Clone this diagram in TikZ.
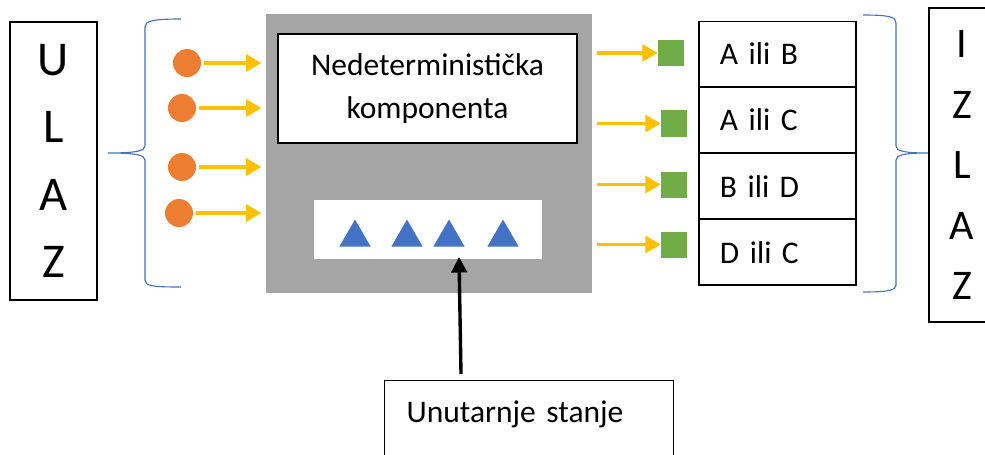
\documentclass[tikz,border=0pt]{standalone}
\usepackage{fontspec}
\setmainfont{Carlito}
\usepackage{tikz}
\usetikzlibrary{positioning}
\usetikzlibrary{shapes.geometric}
\usetikzlibrary{arrows.meta}
\definecolor{inorange}{HTML}{ED7D31}
\definecolor{outgreen}{HTML}{70AD47}
\definecolor{flowgold}{HTML}{FFC000}
\definecolor{officeblue}{HTML}{4472C4}
\definecolor{coregray}{HTML}{A5A5A5}
\tikzset{
	inputstyle/.style={circle,fill=inorange,minimum size=0.7cm,inner sep=0},
	outputstyle/.style={rectangle,fill=outgreen,minimum size=0.65cm,inner sep=0},
	statestyle/.style={regular polygon,regular polygon sides=3,fill=officeblue,minimum size=0.9cm,inner sep=0},
	framestyle/.style={rectangle,draw=black,line width=0.8pt,fill=white},
	valuestyle/.style={framestyle,minimum height=1.625cm,text width=2.875cm,inner xsep=0.525cm,align=left,font=\fontsize{22.4}{30}\selectfont},
	flowstyle/.style={draw=flowgold,line width=2.8pt,-{Triangle[length=11pt,width=12pt]}},
	pointerstyle/.style={draw=black,line width=2.4pt,-{Triangle[length=11pt,width=11pt]}},
	bracestyle/.style={draw=officeblue,line width=0.8pt}
}
\begin{document}
\begin{tikzpicture}[x=0.025cm,y=-0.025cm]
	\useasboundingbox (0,0) rectangle (985,454);
	\clip (0,0) rectangle (985,454);
	% ulaz
	\node[framestyle,minimum width=2.175cm,minimum height=6.95cm,align=center,font=\fontsize{34.5}{48}\selectfont] (ulaz) at (53.5,161) {U\\L\\A\\Z};
	\draw[bracestyle] (181,19) .. controls (152,19) and (145,21) .. (145,27) -- (145,146) .. controls (145,151) and (136,153) .. (108,153) .. controls (136,153) and (145,155) .. (145,160) -- (145,280) .. controls (145,286) and (152,287) .. (181,287);
	% komponenta
	\node[rectangle,fill=coregray,minimum width=8.15cm,minimum height=6.975cm,inner sep=0] (core) at (429,153.5) {};
	\node[framestyle,minimum width=7.475cm,minimum height=2.725cm,align=center,font=\fontsize{22.4}{30.5}\selectfont] (nd) at (427.5,88.5) {Nedeterministička\\komponenta};
	\node[rectangle,fill=white,minimum width=5.7cm,minimum height=1.475cm,inner sep=0] (mem) at (428,229.5) {};
	\node[statestyle] (t1) at (355,237.5) {};
	\node[statestyle] (t2) at (407,237.5) {};
	\node[statestyle] (t3) at (449,237.5) {};
	\node[statestyle] (t4) at (503,237.5) {};
	% ulazi
	\node[inputstyle] (in1) at (187,63) {};
	\node[inputstyle] (in2) at (182,108) {};
	\node[inputstyle] (in3) at (182,167) {};
	\node[inputstyle] (in4) at (179,213) {};
	\draw[flowstyle,shorten <=2pt,shorten >=3pt] (in1) -- (in1 -| core.west);
	\draw[flowstyle,shorten <=2pt,shorten >=3pt] (in2) -- (in2 -| core.west);
	\draw[flowstyle,shorten <=2pt,shorten >=3pt] (in3) -- (in3 -| core.west);
	\draw[flowstyle,shorten <=2pt,shorten >=3pt] (in4) -- (in4 -| core.west);
	% izlazi
	\node[outputstyle] (out1) at (671,53) {};
	\node[outputstyle] (out2) at (674,123.5) {};
	\node[outputstyle] (out3) at (674,184.5) {};
	\node[outputstyle] (out4) at (674,244.5) {};
	\draw[flowstyle,shorten <=3pt] (out1 -| core.east) -- (out1);
	\draw[flowstyle,shorten <=3pt] (out2 -| core.east) -- (out2);
	\draw[flowstyle,shorten <=3pt] (out3 -| core.east) -- (out3);
	\draw[flowstyle,shorten <=3pt] (out4 -| core.east) -- (out4);
	\node[valuestyle] (v1) at (777.5,54) {A ili B};
	\node[valuestyle,below=0pt of v1] (v2) {A ili C};
	\node[valuestyle,below=0pt of v2] (v3) {B ili D};
	\node[valuestyle,below=0pt of v3] (v4) {D ili C};
	% izlaz
	\draw[bracestyle] (863,15) .. controls (890,15) and (896,17) .. (896,23) -- (896,146) .. controls (896,151) and (904,153) .. (928,153) .. controls (904,153) and (896,155) .. (896,160) -- (896,285) .. controls (896,290) and (890,292) .. (863,292);
	\node[framestyle,minimum width=1.65cm,minimum height=7.85cm,align=center,font=\fontsize{30}{43}\selectfont] (izlaz) at (962,165) {I\\Z\\L\\A\\Z};
	% unutarnje stanje
	\node[framestyle,anchor=north west,text width=6.125cm,inner xsep=0.55cm,inner ysep=0.55cm,text height=0.5cm,text depth=2cm,align=left,font=\fontsize{22.4}{30}\selectfont] (stanje) at (384,380) {Unutarnje stanje};
	\coordinate (tail) at (461,374);
	\coordinate (head) at (459,257);
	\draw[pointerstyle] (tail) -- (head);
\end{tikzpicture}
\end{document}
